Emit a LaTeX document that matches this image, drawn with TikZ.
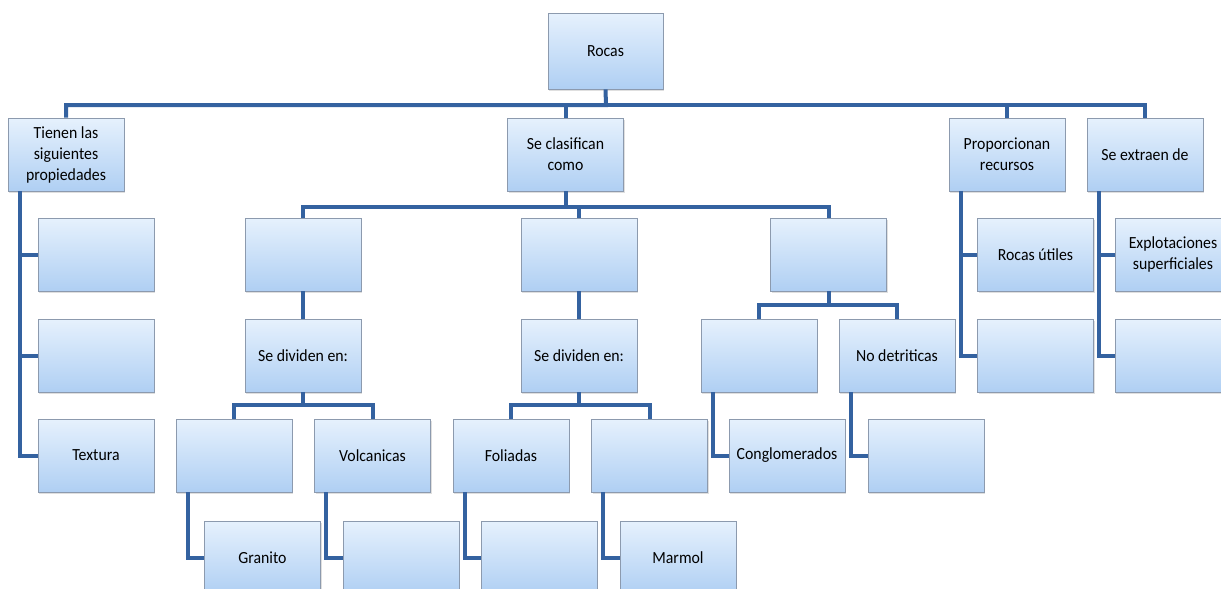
\documentclass[tikz,border=0pt]{standalone}
\usepackage{fontspec}
\setmainfont{Carlito}[FakeStretch=0.93]
\usetikzlibrary{positioning, shadows}

\definecolor{linkblue}{HTML}{3462A0}
\definecolor{boxtop}{HTML}{E6F1FD}
\definecolor{boxbot}{HTML}{AFCFF3}
\definecolor{boxline}{HTML}{8C9AAE}

\begin{document}
\begin{tikzpicture}[x=1pt, y=-1pt, line cap=butt, line join=miter]
	
	%======================
	% PARAMETERS (edit here)
	%======================
	\def\bw{116}         % box width
	\def\bh{73}          % box height
	\def\off{12}         % side stem offset from box left edge
	
	% Styles
	\tikzset{
		cbox/.style={draw=boxline, line width=0.8pt, top color=boxtop, bottom color=boxbot,
			minimum width=\bw pt, minimum height=\bh pt, inner sep=2pt, align=center,
			font=\fontsize{17}{21}\selectfont,
			drop shadow={opacity=0.25, shadow xshift=1pt, shadow yshift=-2pt}},
		link/.style={draw=linkblue, line width=4pt}
	}
	
	\useasboundingbox (0,0) rectangle (1221,589);
	\clip (0,0) rectangle (1221,589);
	
	%======================
	% LEVEL 0 and 1
	%======================
	\node[cbox, minimum width=115pt, minimum height=76pt] (rocas) at (605.5,51) {Rocas};
	
	\node[cbox] (prop)  at (66,154.5)     {Tienen las\\siguientes\\propiedades};
	\node[cbox] (clas)  at (565.5,154.5)  {Se clasifican\\como};
	\node[cbox] (recur) at (1007,154.5)   {Proporcionan\\recursos};
	\node[cbox] (extr)  at (1145,154.5)   {Se extraen de};
	
	\coordinate (bar0) at (606,105);
	\draw[link] (rocas.south) -- (bar0) -| (prop.north);
	\draw[link] (bar0) -| (extr.north);
	\draw[link] (bar0) -| (clas.north);
	\draw[link] (bar0) -| (recur.north);
	
	%======================
	% PROPERTIES (left column)
	%======================
	\node[cbox] (prop1) at (96,254.5) {};
	\node[cbox] (prop2) at (96,355.5) {};
	\node[cbox] (prop3) at (96,455.5) {Textura};
	\foreach \k in {1,2,3}
		\draw[link] ([xshift=\off pt]prop.south west) |- (prop\k.west);
	
	%======================
	% CLASSIFICATION
	%======================
	\node[cbox] (ign)  at (303,254.5)   {};
	\node[cbox] (met)  at (579,254.5)   {};
	\node[cbox] (sed)  at (828.5,254.5) {};
	
	\coordinate (bar1) at (565.5,207);
	\draw[link] (clas.south) -- (bar1) -| (ign.north);
	\draw[link] (bar1) -| (sed.north);
	\draw[link] (bar1) -| (met.north);
	
	\node[cbox] (igndiv) at (303,355.5) {Se dividen en:};
	\node[cbox] (metdiv) at (579,355.5) {Se dividen en:};
	\draw[link] (ign.south) -- (igndiv.north);
	\draw[link] (met.south) -- (metdiv.north);
	
	% igneous branch
	\node[cbox] (plut) at (234,455.5)   {};
	\node[cbox] (volc) at (372.5,455.5) {Volcanicas};
	\draw[link] (igndiv.south) -- ++(0,13) -| (plut.north);
	\draw[link] (igndiv.south) -- ++(0,13) -| (volc.north);
	\node[cbox] (gran) at (262.5,557.5) {Granito};
	\node[cbox] (volx) at (401,557.5)   {};
	\draw[link] ([xshift=\off pt]plut.south west) |- (gran.west);
	\draw[link] ([xshift=\off pt]volc.south west) |- (volx.west);
	
	% metamorphic branch
	\node[cbox] (fol)  at (511,455.5)   {Foliadas};
	\node[cbox] (nfol) at (649.5,455.5) {};
	\draw[link] (metdiv.south) -- ++(0,13) -| (fol.north);
	\draw[link] (metdiv.south) -- ++(0,13) -| (nfol.north);
	\node[cbox] (folx) at (539,557.5) {};
	\node[cbox] (marm) at (678,557.5) {Marmol};
	\draw[link] ([xshift=\off pt]fol.south west) |- (folx.west);
	\draw[link] ([xshift=\off pt]nfol.south west) |- (marm.west);
	
	% sedimentary branch
	\node[cbox] (det)  at (759,355.5) {};
	\node[cbox] (ndet) at (897,355.5) {No detriticas};
	\draw[link] (sed.south) -- ++(0,14) -| (det.north);
	\draw[link] (sed.south) -- ++(0,14) -| (ndet.north);
	\node[cbox] (cong) at (787,455.5) {Conglomerados};
	\node[cbox] (ndtx) at (926,455.5) {};
	\draw[link] ([xshift=\off pt]det.south west) |- (cong.west);
	\draw[link] ([xshift=\off pt]ndet.south west) |- (ndtx.west);
	
	%======================
	% RESOURCES and EXTRACTION
	%======================
	\node[cbox] (util) at (1035.5,254.5) {Rocas útiles};
	\node[cbox] (recx) at (1035.5,355.5) {};
	\draw[link] ([xshift=\off pt]recur.south west) |- (util.west);
	\draw[link] ([xshift=\off pt]recur.south west) |- (recx.west);
	
	\node[cbox] (sup)  at (1173,254.5) {Explotaciones\\superficiales};
	\node[cbox] (extx) at (1173,355.5) {};
	\draw[link] ([xshift=\off pt]extr.south west) |- (sup.west);
	\draw[link] ([xshift=\off pt]extr.south west) |- (extx.west);
\end{tikzpicture}
\end{document}
